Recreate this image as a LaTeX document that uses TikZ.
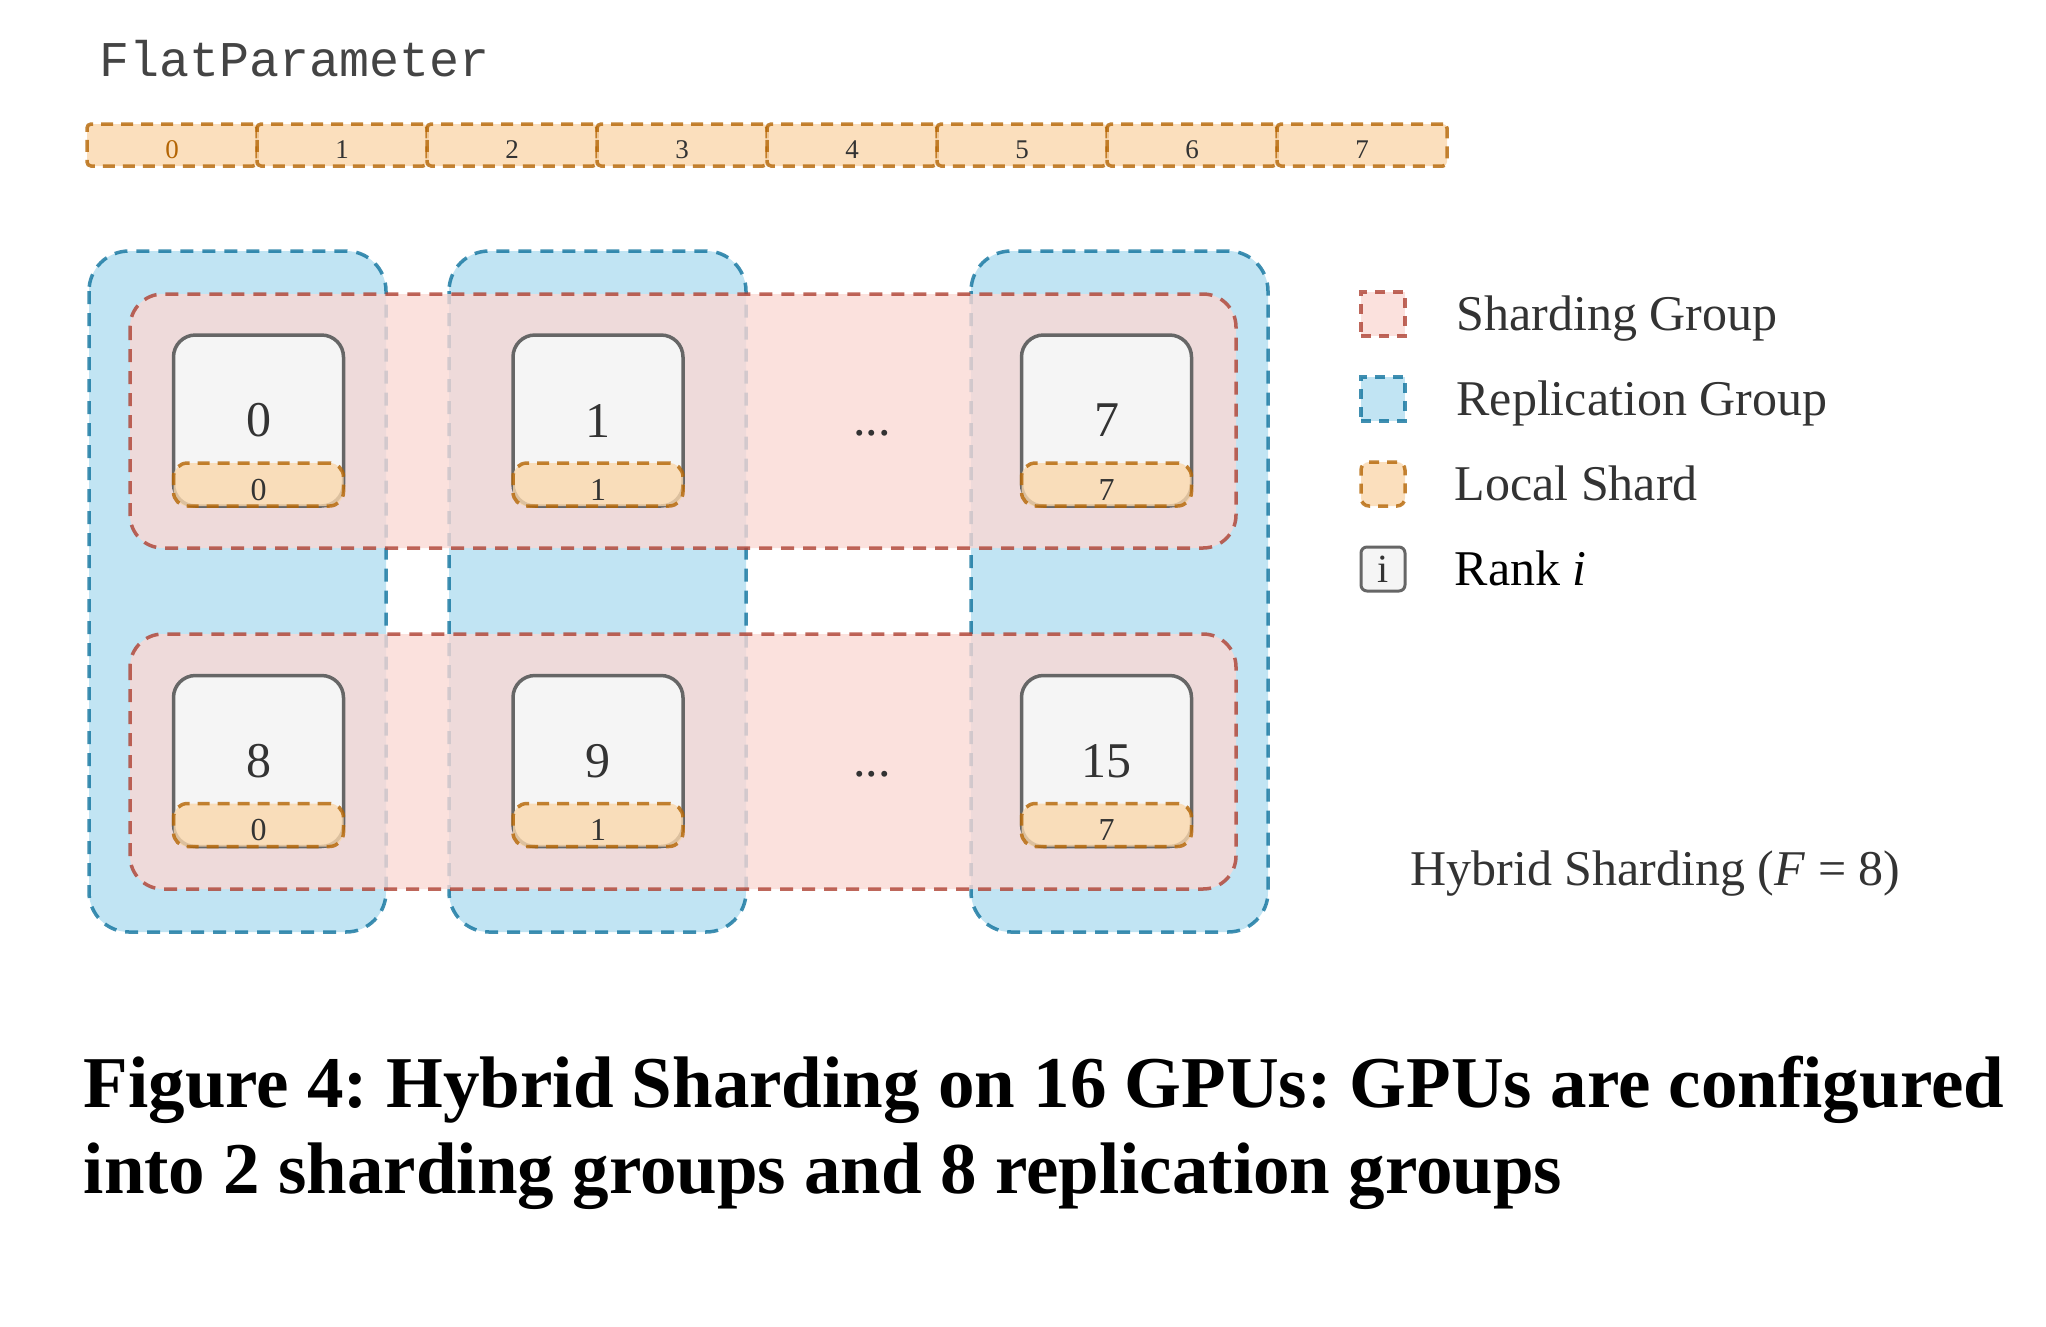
\documentclass[tikz,border=0pt]{standalone}
\usepackage{fontspec}
\setmainfont{Liberation Serif}
\setmonofont{Liberation Mono}
\usetikzlibrary{positioning}
\frenchspacing
\definecolor{repfill}{HTML}{B1DDF0}
\definecolor{repline}{HTML}{10739E}
\definecolor{shfill}{HTML}{FAD9D5}
\definecolor{shline}{HTML}{AE4132}
\definecolor{locfill}{HTML}{FAD7AC}
\definecolor{locline}{HTML}{B46504}
\definecolor{rkfill}{HTML}{F5F5F5}
\definecolor{rkline}{HTML}{666666}
\definecolor{txt}{HTML}{333333}
\definecolor{fpgray}{HTML}{444444}
\begin{document}
\begin{tikzpicture}[x=1pt, y=-1pt, line width=3.5pt,
  big/.style={font=\fontsize{50}{60}\selectfont, text=txt},
  lab/.style={big, text height=33pt, text depth=0pt, inner sep=0pt, anchor=west},
  cell/.style={draw=locline, draw opacity=.8, fill=locfill, fill opacity=.8, text opacity=1, dash pattern=on 12pt off 8pt, rounded corners=4pt, minimum width=170pt, minimum height=42pt, inner sep=0pt, outer sep=0pt, text height=26pt, text depth=0pt, font=\fontsize{27}{32}\selectfont, text=txt},
  rep/.style={draw=repline, draw opacity=.8, fill=repfill, fill opacity=.8, dash pattern=on 13pt off 9pt, rounded corners=40pt},
  shd/.style={draw=shline, draw opacity=.8, fill=shfill, fill opacity=.8, dash pattern=on 13pt off 9pt, rounded corners=33pt},
  rank/.style={draw=rkline, fill=rkfill, rounded corners=22pt, minimum width=170pt, minimum height=171pt, inner sep=0pt, outer sep=0pt, big},
  shard/.style={draw=locline, draw opacity=.8, fill=locfill, fill opacity=.8, text opacity=1, dash pattern=on 12pt off 8pt, rounded corners=14pt, minimum width=170pt, minimum height=43pt, inner sep=0pt, outer sep=0pt, text height=31pt, text depth=0pt, font=\fontsize{32}{38}\selectfont, text=txt}]
\useasboundingbox (0,0) rectangle (2046,1326);
\node[anchor=base west, inner sep=0pt, font=\fontsize{50}{60}\ttfamily, text=fpgray] (fp) at (98,76) {FlatParameter};
\node[cell, text=locline] (b0) at (172,145) {0};
\node[cell] (b1) [right=0pt of b0] {1};
\node[cell] (b2) [right=0pt of b1] {2};
\node[cell] (b3) [right=0pt of b2] {3};
\node[cell] (b4) [right=0pt of b3] {4};
\node[cell] (b5) [right=0pt of b4] {5};
\node[cell] (b6) [right=0pt of b5] {6};
\node[cell] (b7) [right=0pt of b6] {7};
\draw[rep] (89,251) rectangle (386,932);
\draw[rep] (449,251) rectangle (746,932);
\draw[rep] (971,251) rectangle (1268,932);
\draw[shd] (130,294) rectangle (1236,548);
\draw[shd] (130,634) rectangle (1236,889);
\node[rank] (r0) at (258.5,420.5) {0};
\node[rank] (r1) at (598,420.5) {1};
\node[rank] (r7) at (1106.5,420.5) {7};
\node[rank] (r8) at (258.5,761) {8};
\node[rank] (r9) at (598,761) {9};
\node[rank] (r15) at (1106.5,761) {15};
\node[shard] (s0) [above=0pt of r0.south] {0};
\node[shard] (s1) [above=0pt of r1.south] {1};
\node[shard] (s7) [above=0pt of r7.south] {7};
\node[shard] (s8) [above=0pt of r8.south] {0};
\node[shard] (s9) [above=0pt of r9.south] {1};
\node[shard] (s15) [above=0pt of r15.south] {7};
\node[big, anchor=base] (d1) at (872,435) {...};
\node[big, anchor=base] (d2) at (872,776) {...};
\node[shd, rounded corners=0pt, minimum size=44pt, dash pattern=on 10pt off 8pt] (l1) at (1383,314) {};
\node[rep, rounded corners=0pt, minimum size=44pt, dash pattern=on 10pt off 8pt] (l2) at (1383,399) {};
\node[shard, rounded corners=8pt, minimum width=44pt, minimum height=44pt, dash pattern=on 10pt off 8pt] (l3) at (1383,484) {};
\node[rank, rounded corners=6pt, minimum width=44pt, minimum height=44pt, font=\fontsize{40}{40}\selectfont, line width=3pt] (l4) at (1383,569) {i};
\node[lab] (t1) [right=48pt of l1] {Sharding Group};
\node[lab] (t2) [right=48pt of l2] {Replication Group};
\node[lab] (t3) [right=48pt of l3] {Local Shard};
\node[lab, text=black] (t4) [right=48pt of l4] {Rank \textit{i}};
\node[big, anchor=base west, inner sep=0pt] (hs) at (1409,885) {Hybrid Sharding (\textit{F} = 8)};
\node[anchor=base west, inner sep=0pt, font=\fontsize{73}{87}\selectfont\bfseries] (c1) at (82,1107) {Figure 4: Hybrid Sharding on 16 GPUs: GPUs are configured};
\node[anchor=base west, inner sep=0pt, font=\fontsize{73}{87}\selectfont\bfseries] (c2) at (82,1193) {into 2 sharding groups and 8 replication groups};
\end{tikzpicture}
\end{document}
